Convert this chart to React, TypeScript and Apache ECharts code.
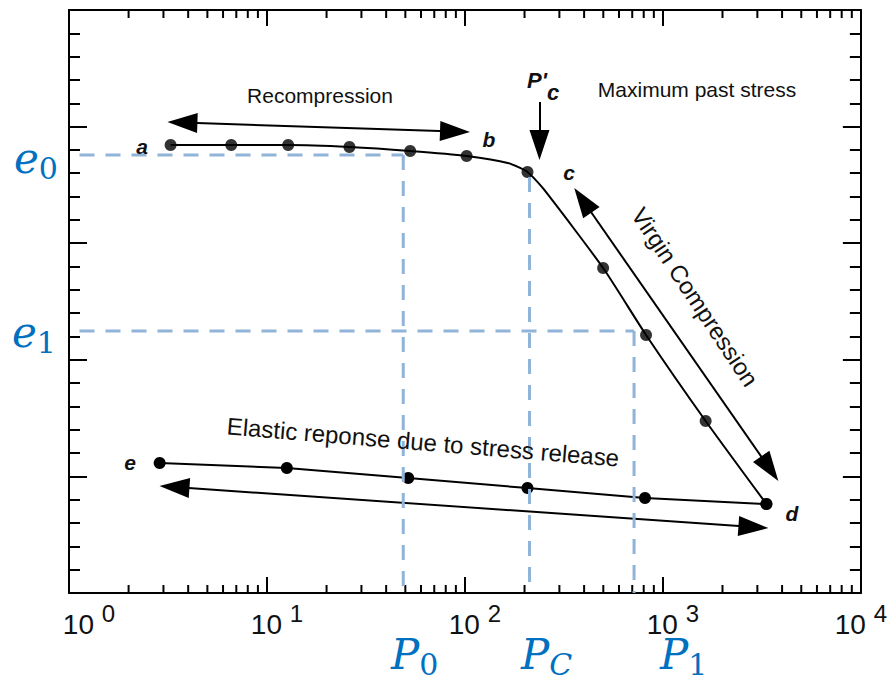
import React, { useEffect, useRef } from "react";
import * as echarts from "echarts";

// ---- data (P in stress units on log axis, e = void ratio, arbitrary linear scale 0..5) ----
const loadP = [3.26, 6.6, 12.8, 26.1, 52.9, 102, 207, 499, 822, 1644, 3333];
const loadE = [3.842, 3.842, 3.842, 3.825, 3.791, 3.748, 3.611, 2.787, 2.213, 1.475, 0.763];
const bendP = [164.5, 249.5];
const bendE = [3.688, 3.465];
const unloadP = [3333, 812, 207, 51.7, 12.6, 2.87];
const unloadE = [0.763, 0.815, 0.9, 0.986, 1.072, 1.115];

const refNames = ["P0", "Pc", "P1"];
const refP = [48.8, 212, 715];
const refTopE = [3.756, 3.568, 2.247];
const eNames = ["e0", "e1"];
const eVals = [3.756, 2.247];
const eEndP = [48.8, 715];
const dashStartP = 1.13;

// arrow end points (centres of the arrow heads)
const recompArrowP = [3.74, 89.1];
const recompArrowE = [4.035, 3.958];
const virginArrowP = [394, 3467];
const virginArrowE = [3.368, 1.066];
const elasticArrowP = [3.41, 2866];
const elasticArrowE = [0.909, 0.566];
const pcArrowP = [238, 238];
const pcArrowE = [4.211, 3.842];

const minorTicks: number[] = [];
[1, 10, 100, 1000].forEach((d) => {
  [2, 3, 4, 5, 6, 7, 8, 9].forEach((m) => minorTicks.push(m * d));
});

const SANS = "'Liberation Sans', Arial, Helvetica, sans-serif";
const SERIF = "'DejaVu Serif', serif";
const BLUE = "#0070c0";
const DASH = "#8fb4d8";
const INK = "#111";

export default function App() {
  const ref = useRef<HTMLDivElement>(null);
  useEffect(() => {
    if (!ref.current) return;
    const chart = echarts.init(ref.current, null, { renderer: "svg" });

    const curve: [number, number][] = loadP
      .map((p, i) => [p, loadE[i]] as [number, number])
      .concat(bendP.map((p, i) => [p, bendE[i]] as [number, number]))
      .sort((a, b) => a[0] - b[0]);

    const arrow = (P: number[], E: number[], both = true) => [
      { coord: [P[0], E[0]], symbol: both ? "triangle" : "none" },
      { coord: [P[1], E[1]], symbol: "triangle" },
    ];

    const axisLineStyle = { color: "#000", width: 2 };
    const xAxisBase = {
      type: "log",
      logBase: 10,
      min: 1,
      max: 10000,
      axisLine: { show: true, onZero: false, lineStyle: axisLineStyle },
      axisTick: { show: true, inside: true, length: 16, lineStyle: axisLineStyle },
      minorTick: { show: false },
      splitLine: { show: false },
    };
    const yAxisBase = {
      type: "value",
      min: 0,
      max: 5,
      interval: 1,
      axisLine: { show: true, onZero: false, lineStyle: axisLineStyle },
      axisTick: { show: true, inside: true, length: 18, lineStyle: axisLineStyle },
      minorTick: { show: true, splitNumber: 5, length: 11, lineStyle: axisLineStyle },
      splitLine: { show: false },
      axisLabel: { show: false },
    };

    const tokBase = {
      fontSize: 28,
      fontFamily: SANS,
      color: INK,
      lineHeight: 46,
      verticalAlign: "middle",
    };

    const text = (t: string, x: number, y: number, font: string, fill: string, extra: any = {}) => ({
      type: "text",
      x,
      y,
      silent: true,
      z: 50,
      ...extra,
      style: { text: t, font, fill, align: "center", verticalAlign: "middle", ...(extra.style || {}) },
    });

    const mathRich = {
      m: { font: `italic 42px ${SERIF}`, lineHeight: 50, fill: BLUE, verticalAlign: "middle" },
      s: { font: `30px ${SERIF}`, lineHeight: 30, fill: BLUE, verticalAlign: "bottom" },
      si: { font: `italic 30px ${SERIF}`, lineHeight: 30, fill: BLUE, verticalAlign: "bottom" },
    };
    const math = (t: string, x: number, y: number) => ({
      type: "text",
      x,
      y,
      silent: true,
      z: 50,
      style: { text: t, rich: mathRich, align: "left", verticalAlign: "middle", fill: BLUE },
    });

    const bi = `italic bold 21px ${SANS}`;

    const option: any = {
      animation: false,
      grid: { left: 69, right: 25, top: 10, bottom: 89 },
      xAxis: [
        {
          ...xAxisBase,
          position: "bottom",
          axisLabel: {
            margin: 8,
            formatter: (v: number) => {
              const exp = Math.round(Math.log10(v));
              const key = exp === 0 ? "f" : exp === 4 ? "l" : "b";
              return `{${key}|10 }{s|${exp}}`;
            },
            rich: {
              b: { ...tokBase, padding: [0, 0, 0, 20] },
              f: { ...tokBase, padding: [0, 0, 0, 40] },
              l: { ...tokBase, padding: [0, 0, 0, 0] },
              s: { fontSize: 24, fontFamily: SANS, color: INK, lineHeight: 24, verticalAlign: "top" },
            },
          },
        },
        { ...xAxisBase, position: "top", axisLabel: { show: false } },
      ],
      yAxis: [
        { ...yAxisBase, position: "left" },
        { ...yAxisBase, position: "right" },
      ],
      series: [
        {
          type: "custom",
          name: "minor log ticks",
          silent: true,
          data: minorTicks.map((v) => [v, 0]),
          renderItem: (_p: any, api: any) => {
            const v = api.value(0);
            const b = api.coord([v, 0]);
            const t = api.coord([v, 5]);
            const st = { stroke: "#000", lineWidth: 2 };
            return {
              type: "group",
              children: [
                { type: "line", shape: { x1: b[0], y1: b[1], x2: b[0], y2: b[1] - 8 }, style: st },
                { type: "line", shape: { x1: t[0], y1: t[1], x2: t[0], y2: t[1] + 8 }, style: st },
              ],
            };
          },
        },
        {
          type: "line",
          name: "loading",
          data: curve,
          showSymbol: false,
          smooth: 0.2,
          lineStyle: { color: "#000", width: 2 },
          z: 3,
        },
        {
          type: "scatter",
          name: "loading points",
          data: loadP.map((p, i) => [p, loadE[i]]),
          symbol: "circle",
          symbolSize: 12,
          itemStyle: { color: "#000" },
          z: 4,
        },
        {
          type: "line",
          name: "unloading",
          data: unloadP.map((p, i) => [p, unloadE[i]]),
          symbol: "circle",
          symbolSize: 12,
          showSymbol: true,
          lineStyle: { color: "#000", width: 2 },
          itemStyle: { color: "#000" },
          z: 4,
        },
        {
          type: "line",
          name: "arrows",
          data: [],
          silent: true,
          markLine: {
            silent: true,
            symbolSize: [20, 30],
            lineStyle: { color: "#000", width: 2, type: "solid" },
            label: { show: false },
            emphasis: { disabled: true },
            data: [
              arrow(recompArrowP, recompArrowE),
              arrow(virginArrowP, virginArrowE),
              arrow(elasticArrowP, elasticArrowE),
              arrow(pcArrowP, pcArrowE, false),
            ],
          },
        },
        ...refNames.map((n, i) => ({
          type: "line",
          name: n,
          data: [
            [refP[i], refTopE[i]],
            [refP[i], 0],
          ],
          showSymbol: false,
          silent: true,
          lineStyle: { color: DASH, width: 3, type: [15, 11] },
          z: 10,
        })),
        ...eNames.map((n, i) => ({
          type: "line",
          name: n,
          data: [
            [dashStartP, eVals[i]],
            [eEndP[i], eVals[i]],
          ],
          showSymbol: false,
          silent: true,
          lineStyle: { color: DASH, width: 3, type: [15, 11] },
          z: 10,
        })),
      ],
      graphic: [
        text("Recompression", 320, 95, `21px ${SANS}`, INK),
        text("Maximum past stress", 697, 89, `21px ${SANS}`, INK),
        text("Elastic reponse due to stress release", 423, 442, `24px ${SANS}`, INK, { rotation: (-4.7 * Math.PI) / 180 }),
        text("Virgin Compression", 695, 297, `24px ${SANS}`, INK, { rotation: (-56.4 * Math.PI) / 180 }),
        {
          type: "text",
          x: 527,
          y: 86,
          silent: true,
          z: 50,
          style: {
            text: "{p|P'}{c|c}",
            align: "left",
            verticalAlign: "middle",
            fill: INK,
            rich: {
              p: { font: `italic bold 22px ${SANS}`, fill: INK, lineHeight: 34, verticalAlign: "top" },
              c: { font: `italic bold 22px ${SANS}`, fill: INK, lineHeight: 22, verticalAlign: "bottom" },
            },
          },
        },
        text("a", 142, 146, bi, INK),
        text("b", 489, 139, bi, INK),
        text("c", 569, 172, bi, INK),
        text("d", 792, 513, bi, INK),
        text("e", 130, 462, bi, INK),
        // blue math labels
        math("{m|e}{s|0}", 14, 158),
        math("{m|e}{s|1}", 12, 332),
        math("{m|P}{s|0}", 391, 654),
        math("{m|P}{si|C}", 521, 654),
        math("{m|P}{s|1}", 660, 654),
      ],
    };

    chart.setOption(option);
    return () => chart.dispose();
  }, []);

  return (
    <div
      ref={ref}
      style={{ position: "fixed", left: 0, top: 0, width: 890, height: 682, background: "#fff" }}
    />
  );
}
